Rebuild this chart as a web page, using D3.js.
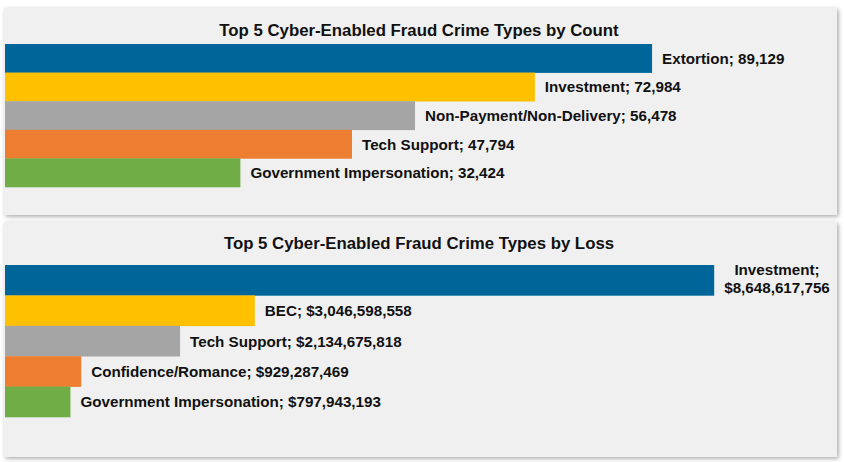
<!DOCTYPE html>
<html><head><meta charset="utf-8">
<script src="https://cdn.jsdelivr.net/npm/d3@7"></script>
<style>body{margin:0;background:#fff}svg{display:block}</style>
</head><body>
<script>
// Data
const countCategories = ["Extortion","Investment","Non-Payment/Non-Delivery","Tech Support","Government Impersonation"];
const countValues = [89129, 72984, 56478, 47794, 32424];
const lossCategories = ["Investment","BEC","Tech Support","Confidence/Romance","Government Impersonation"];
const lossValues = [8648617756, 3046598558, 2134675818, 929287469, 797943193];
const colors = ["#006699","#FFC000","#A5A5A5","#ED7D31","#70AD47"];
const titles = ["Top 5 Cyber-Enabled Fraud Crime Types by Count","Top 5 Cyber-Enabled Fraud Crime Types by Loss"];

const W = 844, H = 462;
const svg = d3.select("body").append("svg").attr("width", W).attr("height", H);
const defs = svg.append("defs");
const f = defs.append("filter").attr("id","sh").attr("x","-5%").attr("y","-10%").attr("width","110%").attr("height","120%");
f.append("feDropShadow").attr("dx",1.5).attr("dy",1.5).attr("stdDeviation",2).attr("flood-color","#000").attr("flood-opacity",0.35);

const FONT = "'Liberation Sans', Arial, sans-serif";

function panel(cfg) {
  const g = svg.append("g");
  g.append("rect").attr("x",4).attr("y",cfg.top).attr("width",833).attr("height",cfg.bottom-cfg.top)
    .attr("fill","#f0f0f0").attr("filter","url(#sh)");
  g.append("text").attr("x",419).attr("y",cfg.titleY).attr("text-anchor","middle")
    .attr("font-family",FONT).attr("font-weight","bold").attr("font-size",16.8).attr("fill","#111")
    .text(cfg.title);
  const x = d3.scaleLinear().domain([0,cfg.max]).range([5,cfg.xEnd]);
  const y = d3.scaleBand().domain(cfg.cats).range(cfg.yRange).padding(0);
  const data = cfg.cats.map((c,i)=>({c, v:cfg.vals[i], col:colors[i]}));
  g.selectAll("rect.bar").data(data).join("rect").attr("class","bar")
    .attr("x",x(0)).attr("y",d=>y(d.c)).attr("width",d=>x(d.v)-x(0)).attr("height",y.bandwidth()+0.3)
    .attr("fill",d=>d.col);
  data.forEach((d,i)=>{
    const t = g.append("text").attr("font-family",FONT).attr("font-weight","bold").attr("font-size",15.2).attr("fill","#111");
    const lbl = d.c + "; " + cfg.fmt(d.v);
    const cy = y(d.c) + y.bandwidth()/2;
    if (cfg.wrapFirst && i===0) {
      const cx = 777;
      t.attr("text-anchor","middle");
      t.append("tspan").attr("x",cx).attr("y",cy-5).text(d.c+";");
      t.append("tspan").attr("x",cx).attr("y",cy+13).text(cfg.fmt(d.v));
    } else {
      t.attr("x",x(d.v)+10).attr("y",cy+5.5).text(lbl);
    }
  });
}

panel({top:8,bottom:215,titleY:36,title:titles[0],cats:countCategories,vals:countValues,max:100000,xEnd:731,
  yRange:[44,187],fmt:d3.format(","),wrapFirst:false});
panel({top:222,bottom:457,titleY:249,title:titles[1],cats:lossCategories,vals:lossValues,max:1e10,xEnd:825,
  yRange:[265,417],fmt:v=>"$"+d3.format(",")(v),wrapFirst:true});
</script>
</body></html>
